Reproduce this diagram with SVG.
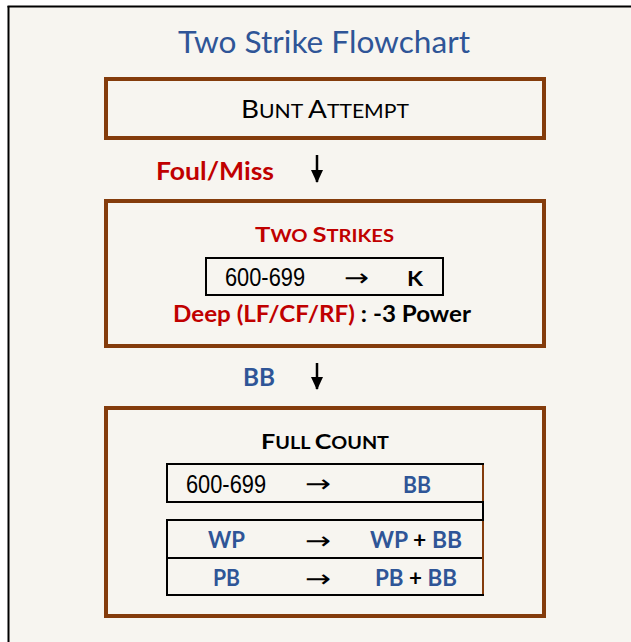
<svg xmlns="http://www.w3.org/2000/svg" width="631" height="642" viewBox="0 0 631 642">
  <defs>
    <style>
      .box { fill: none; stroke: #843C0C; stroke-width: 4; }
      .tbl { stroke: #000; stroke-width: 2; fill: none; }
      .tblb { stroke: #843C0C; stroke-width: 2; fill: none; }
      .cal { font-family: Lato, "Open Sans", "Liberation Sans", sans-serif; }
      .b { font-weight: bold; }
      .red { fill: #C00000; }
      .blue { fill: #2F5597; }
      .blk { fill: #000; }
      .num { font-family: "Liberation Sans", Arial, sans-serif; font-size: 25px; fill: #000; }
      .arr { font-family: "DejaVu Sans", "Liberation Serif", serif; font-size: 24px; fill: #000; }
      .conn { stroke: #000; stroke-width: 2.5; fill: none; }
    </style>
    <marker id="ah" markerWidth="13" markerHeight="12" refX="12" refY="6" orient="auto" markerUnits="userSpaceOnUse" viewBox="0 0 13 12">
      <path d="M0,0 L13,6 L0,12 Z" fill="#000"/>
    </marker>
  </defs>

  <rect x="0" y="0" width="631" height="642" fill="#FFFFFF"/>
  <rect x="8" y="6" width="623" height="636" fill="#F7F5F0"/>
  <line x1="8.5" y1="6" x2="8.5" y2="642" stroke="#000" stroke-width="2"/>
  <line x1="7.5" y1="6.5" x2="631" y2="6.5" stroke="#000" stroke-width="2"/>

  <g id="title">
    <text class="cal blue" x="178" y="53" font-size="30" textLength="292" lengthAdjust="spacingAndGlyphs">Two Strike Flowchart</text>
  </g>

  <g id="bunt-attempt">
    <rect class="box" x="106" y="79" width="438" height="59"/>
    <text class="cal blk" x="241" y="118" textLength="168" lengthAdjust="spacingAndGlyphs"><tspan font-size="25">B</tspan><tspan font-size="19">UNT </tspan><tspan font-size="25">A</tspan><tspan font-size="19">TTEMPT</tspan></text>
  </g>

  <g id="two-strikes">
    <rect class="box" x="106" y="201" width="438" height="145"/>
    <text class="cal b red" x="255" y="242" textLength="139" lengthAdjust="spacingAndGlyphs"><tspan font-size="21">T</tspan><tspan font-size="16.5">WO </tspan><tspan font-size="21">S</tspan><tspan font-size="16.5">TRIKES</tspan></text>
    <rect class="tbl" x="206" y="258" width="237" height="37"/>
    <text class="num" x="225" y="286" textLength="80" lengthAdjust="spacingAndGlyphs">600-699</text>
    <text class="arr" x="344" y="286" textLength="25" lengthAdjust="spacingAndGlyphs">→</text>
    <text class="cal b blk" x="407" y="286" font-size="20" textLength="16" lengthAdjust="spacingAndGlyphs">K</text>
    <text class="cal b" x="173" y="322" font-size="22.5" textLength="298" lengthAdjust="spacingAndGlyphs"><tspan class="red">Deep (LF/CF/RF)</tspan><tspan class="blk"> : -3 Power</tspan></text>
  </g>

  <g id="full-count">
    <rect class="box" x="106" y="408" width="438" height="208"/>
    <text class="cal b blk" x="261" y="449" textLength="128" lengthAdjust="spacingAndGlyphs"><tspan font-size="21">F</tspan><tspan font-size="16.5">ULL </tspan><tspan font-size="21">C</tspan><tspan font-size="16.5">OUNT</tspan></text>
    <line class="tbl" x1="166" y1="464" x2="484" y2="464"/>
    <line class="tbl" x1="166" y1="502" x2="484" y2="502"/>
    <line class="tbl" x1="166" y1="520" x2="484" y2="520"/>
    <line class="tbl" x1="167" y1="558" x2="483" y2="558" stroke-width="1.5"/>
    <line class="tbl" x1="166" y1="595" x2="484" y2="595"/>
    <line class="tbl" x1="167" y1="463" x2="167" y2="503"/>
    <line class="tbl" x1="167" y1="519" x2="167" y2="596"/>
    <line class="tblb" x1="483" y1="465" x2="483" y2="501"/>
    <line class="tbl" x1="483" y1="501" x2="483" y2="521"/>
    <line class="tblb" x1="483" y1="521" x2="483" y2="594"/>

    <text class="num" x="186" y="493" textLength="80" lengthAdjust="spacingAndGlyphs">600-699</text>
    <text class="arr" x="305" y="492" textLength="26" lengthAdjust="spacingAndGlyphs">→</text>
    <text class="cal b blue" x="403" y="493" font-size="22.5" textLength="28" lengthAdjust="spacingAndGlyphs">BB</text>

    <text class="cal b blue" x="208" y="548" font-size="22.5" textLength="37" lengthAdjust="spacingAndGlyphs">WP</text>
    <text class="arr" x="305" y="549" textLength="26" lengthAdjust="spacingAndGlyphs">→</text>
    <text class="cal b" x="370" y="548" font-size="22.5" textLength="92" lengthAdjust="spacingAndGlyphs"><tspan class="blue">WP</tspan><tspan class="blk"> + </tspan><tspan class="blue">BB</tspan></text>

    <text class="cal b blue" x="213" y="586" font-size="22.5" textLength="27" lengthAdjust="spacingAndGlyphs">PB</text>
    <text class="arr" x="305" y="587" textLength="26" lengthAdjust="spacingAndGlyphs">→</text>
    <text class="cal b" x="375" y="586" font-size="22.5" textLength="82" lengthAdjust="spacingAndGlyphs"><tspan class="blue">PB</tspan><tspan class="blk"> + </tspan><tspan class="blue">BB</tspan></text>
  </g>

  <g id="connectors">
    <line class="conn" x1="317" y1="155" x2="317" y2="182" marker-end="url(#ah)"/>
    <text class="cal b red" x="156" y="180" font-size="24" textLength="118" lengthAdjust="spacingAndGlyphs">Foul/Miss</text>
    <line class="conn" x1="317" y1="363" x2="317" y2="389" marker-end="url(#ah)"/>
    <text class="cal b blue" x="243" y="386" font-size="24" textLength="32" lengthAdjust="spacingAndGlyphs">BB</text>
  </g>
</svg>
